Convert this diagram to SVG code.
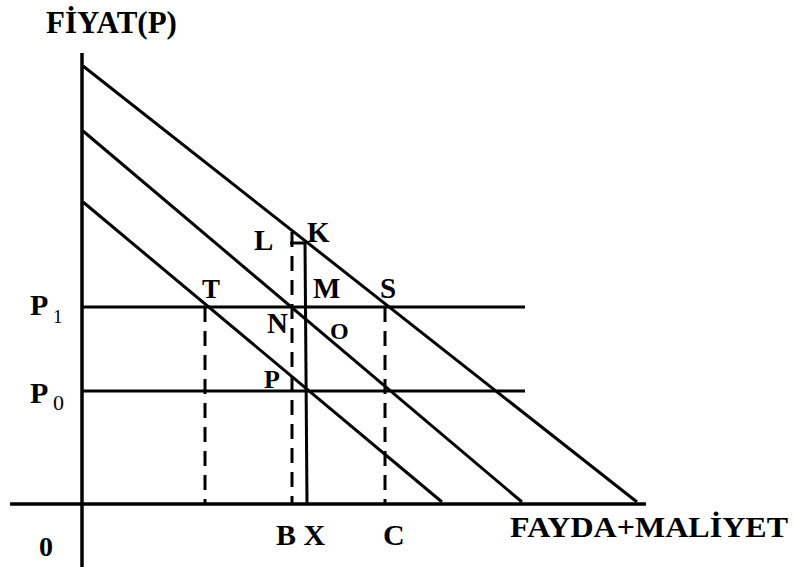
<svg xmlns="http://www.w3.org/2000/svg" width="795" height="567" viewBox="0 0 795 567">
<style>
.ln{stroke:#000;stroke-width:3;fill:none}
.ax{stroke:#000;stroke-width:3.5;fill:none}
.ds{stroke:#000;stroke-width:3;fill:none;stroke-dasharray:15 9}
.t{font-family:"Liberation Serif","Times New Roman",serif;font-weight:bold;fill:#000}
.s{font-family:"Liberation Serif","Times New Roman",serif;font-weight:normal;fill:#000}
</style>
<rect width="795" height="567" fill="#fff"/>
<g id="connectors">
<line class="ax" x1="82" y1="53" x2="82" y2="567"/>
<line class="ax" x1="10" y1="504" x2="646" y2="504"/>
<line class="ln" x1="83" y1="66" x2="637" y2="502"/>
<line class="ln" x1="83" y1="131" x2="522" y2="502"/>
<line class="ln" x1="83" y1="202" x2="442" y2="502"/>
<line class="ln" x1="82" y1="307" x2="525" y2="307"/>
<line class="ln" x1="82" y1="391" x2="525" y2="391"/>
<line class="ln" x1="305" y1="242" x2="307" y2="504"/>
<line class="ln" x1="290" y1="243" x2="305" y2="243"/>
<line class="ds" x1="205" y1="307" x2="205" y2="504"/>
<line class="ds" x1="292" y1="232" x2="292" y2="504"/>
<line class="ds" x1="385" y1="307" x2="385" y2="504"/>
</g>
<g id="axis-labels">
<text class="t" x="46" y="33" font-size="31">FİYAT(P)</text>
<text class="t" x="510" y="537" font-size="30" textLength="278" lengthAdjust="spacingAndGlyphs">FAYDA+MALİYET</text>
<text class="t" x="39" y="556" font-size="28">0</text>
<text class="t" x="30" y="315" font-size="30">P</text>
<text class="s" x="53" y="323" font-size="19">1</text>
<text class="t" x="30" y="403" font-size="30">P</text>
<text class="s" x="53" y="410" font-size="22">0</text>
<text class="t" x="276" y="545" font-size="30">B X</text>
<text class="t" x="383" y="545" font-size="30">C</text>
</g>
<g id="point-labels">
<text class="t" x="254" y="250" font-size="29">L</text>
<text class="t" x="307" y="242" font-size="29">K</text>
<text class="t" x="202" y="298" font-size="27">T</text>
<text class="t" x="313" y="298" font-size="29">M</text>
<text class="t" x="380" y="298" font-size="29">S</text>
<text class="t" x="267" y="333" font-size="29">N</text>
<text class="t" x="330" y="339" font-size="24">O</text>
<text class="t" x="264" y="388" font-size="26">P</text>
</g>
</svg>
